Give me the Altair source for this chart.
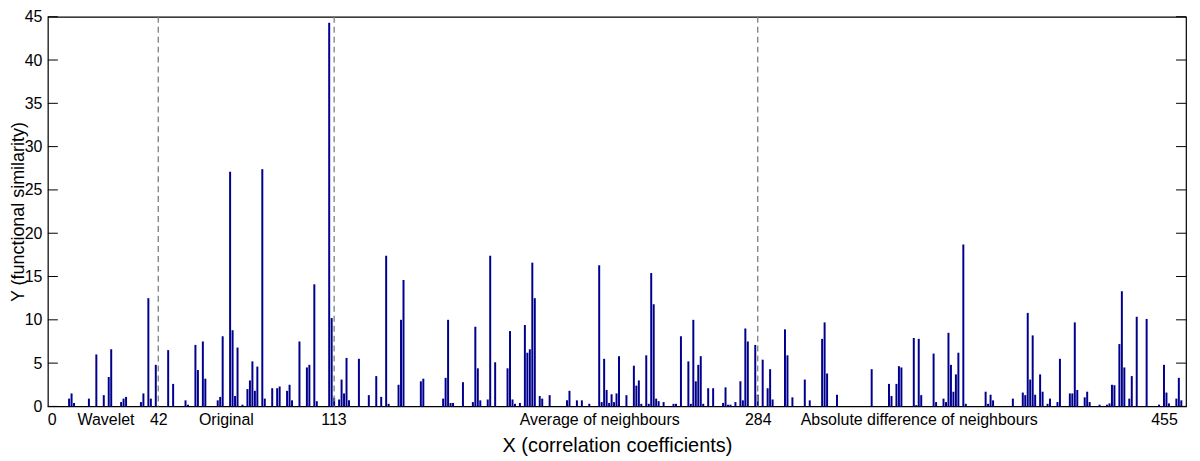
import altair as alt
import pandas as pd

# bar positions (index) and heights
bar_idx = [6, 7, 8, 14, 17, 20, 22, 23, 27, 28, 29, 35, 36, 38, 39, 41, 46, 48, 53, 54,
           57, 58, 60, 61, 66, 67, 68, 71, 72, 73, 74, 76, 78, 79, 80, 81, 82, 84, 85, 88,
           90, 91, 94, 95, 96, 99, 102, 103, 105, 106, 111, 112, 113, 115, 116, 117, 118, 119, 123, 127,
           130, 132, 134, 135, 139, 140, 141, 148, 149, 157, 158, 159, 160, 161, 165, 169, 170, 171, 172, 175,
           176, 178, 183, 184, 185, 186, 188, 190, 191, 192, 193, 194, 196, 197, 200, 207, 208, 211, 213, 216,
           220, 221, 222, 223, 224, 225, 226, 227, 228, 231, 234, 235, 236, 237, 239, 240, 241, 242, 243, 244,
           246, 250, 251, 253, 256, 257, 258, 259, 260, 261, 262, 264, 266, 270, 271, 272, 273, 275, 277, 278,
           279, 280, 283, 284, 286, 288, 289, 290, 295, 296, 298, 303, 305, 310, 311, 312, 316, 330, 337, 338,
           340, 341, 342, 347, 348, 349, 350, 355, 356, 359, 360, 361, 362, 363, 364, 365, 367, 368, 376, 377,
           378, 379, 387, 391, 392, 393, 394, 395, 396, 398, 399, 401, 402, 405, 406, 410, 411, 412, 413, 416,
           417, 418, 422, 425, 426, 427, 428, 430, 431, 432, 434, 435, 437, 441, 446, 448, 449, 450, 453, 454,
           455]
bar_val = [0.9, 1.5, 0.4, 0.9, 6.0, 1.3, 3.4, 6.6, 0.5, 0.9, 1.1, 0.5, 1.5, 12.5, 0.9, 4.8, 6.5, 2.6, 0.7, 0.2,
           7.1, 4.2, 7.5, 3.2, 0.7, 1.1, 8.1, 27.1, 8.8, 1.2, 6.8, 0.2, 2.0, 3.0, 5.2, 1.8, 4.6, 27.4, 0.9, 2.1,
           2.1, 2.3, 1.8, 2.5, 0.7, 7.5, 4.5, 4.8, 14.1, 0.6, 44.3, 10.2, 1.0, 0.8, 3.1, 1.5, 5.6, 0.7, 5.5, 1.3,
           3.5, 1.1, 17.4, 0.3, 2.5, 10.0, 14.6, 2.9, 3.2, 0.9, 3.3, 10.0, 0.4, 0.4, 2.8, 0.5, 9.2, 4.4, 0.7, 0.8,
           17.4, 5.1, 4.4, 8.7, 0.8, 0.3, 0.4, 9.4, 6.2, 6.6, 16.6, 12.5, 1.2, 0.9, 1.3, 0.7, 1.8, 0.7, 0.7, 0.3,
           16.3, 0.5, 5.5, 1.9, 0.4, 1.4, 0.5, 1.5, 5.8, 1.3, 4.7, 2.4, 3.0, 0.3, 5.9, 0.3, 15.4, 11.8, 0.9, 0.6,
           0.5, 0.3, 0.3, 8.1, 5.2, 0.3, 10.0, 2.9, 4.8, 5.8, 0.3, 2.1, 2.1, 0.4, 2.2, 0.2, 0.2, 0.5, 2.9, 0.7,
           9.0, 7.5, 7.1, 1.35, 5.4, 2.1, 4.3, 0.8, 8.9, 5.9, 1.05, 3.1, 0.7, 7.8, 9.7, 3.8, 1.35, 4.3, 2.6, 1.2,
           2.6, 4.65, 4.5, 7.9, 0.15, 7.8, 1.3, 6.1, 0.5, 0.9, 0.5, 8.5, 4.8, 1.7, 3.7, 6.2, 18.7, 0.3, 1.7, 0.3,
           1.35, 0.7, 0.9, 1.6, 1.3, 10.8, 3.1, 8.2, 1.35, 3.7, 1.7, 0.3, 0.9, 0.5, 5.5, 1.5, 1.5, 9.7, 1.9, 1.05,
           1.7, 0.5, 0.2, 0.2, 0.35, 2.5, 2.45, 7.2, 13.3, 4.5, 0.9, 3.5, 10.35, 10.1, 0.2, 4.8, 1.6, 0.35, 0.9, 3.3,
           0.7]

divider_pos = [42, 113, 284]
tick_pos = [-1, 20.7, 42, 69.3, 112.7, 220, 284, 349, 448]
tick_text = ["0", "Wavelet", "42", "Original", "113", "Average of neighbours", "284",
             "Absolute difference of neighbours", "455"]
y_ticks = [0, 5, 10, 15, 20, 25, 30, 35, 40, 45]

W, H = 1142, 391
XDOM = [-2.57, 456.9]

bars = pd.DataFrame({"x": bar_idx, "y": bar_val})
bars["x0"] = bars["x"] - 0.4
bars["x1"] = bars["x"] + 0.4
bars["base"] = 0.0

label_map = "{" + ",".join(f'"{p}":"{t}"' for p, t in zip(tick_pos, tick_text)) + "}"

xscale = alt.Scale(domain=XDOM, nice=False, zero=False)
yscale = alt.Scale(domain=[0, 45], nice=False)

font = "Liberation Sans"

bar_layer = alt.Chart(bars).mark_bar(color="#00008C").encode(
    x=alt.X("x0:Q", scale=xscale,
            axis=alt.Axis(values=tick_pos, title="X (correlation coefficients)",
                          labelExpr=f"{label_map}[datum.value] || ''",
                          grid=False, ticks=False, domain=False, labelFontSize=16,
                          labelColor="black", labelFont=font, labelPadding=5, labelLimit=500,
                          titleFontSize=20, titleFont=font, titleFontWeight="normal",
                          titleColor="black", titlePadding=8, labelFlush=False)),
    x2="x1:Q",
    y=alt.Y("y:Q", scale=yscale,
            axis=alt.Axis(values=y_ticks, title="Y (functional similarity)", grid=False,
                          ticks=False, domain=False, labelFontSize=16, labelColor="black",
                          labelFont=font, labelPadding=6, titleFontSize=18, titleFont=font,
                          titleFontWeight="normal", titleColor="black",
                          titleX=-38, titleY=H / 2, titleAngle=270, titleBaseline="top",
                          titleAlign="center")),
    y2="base:Q",
)

div_df = pd.DataFrame({"x": divider_pos})
div_layer = alt.Chart(div_df).mark_rule(color="#7f7f7f", strokeDash=[6, 4], strokeWidth=1.3).encode(
    x=alt.X("x:Q", scale=xscale), y=alt.value(0), y2=alt.value(H)
)

yt_df = pd.DataFrame({"y": y_ticks})
ytick_left = alt.Chart(yt_df).mark_rule(color="black", strokeWidth=1).encode(
    y=alt.Y("y:Q", scale=yscale), x=alt.value(0), x2=alt.value(10)
)
ytick_right = alt.Chart(yt_df).mark_rule(color="black", strokeWidth=1).encode(
    y=alt.Y("y:Q", scale=yscale), x=alt.value(W - 10), x2=alt.value(W)
)

chart = alt.layer(bar_layer, div_layer, ytick_left, ytick_right).properties(
    width=W, height=H, autosize="none",
    padding={"left": 40, "top": 8, "right": 6, "bottom": 50},
).configure_view(stroke="black", strokeWidth=1.2)

chart.save("out.html", embed_options={"renderer": "svg", "actions": False})
